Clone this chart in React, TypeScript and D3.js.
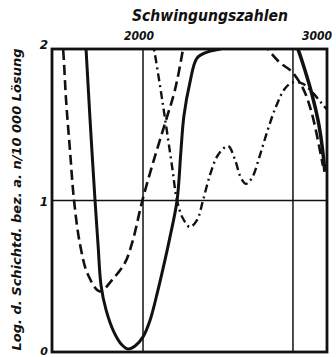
import React from "react";
import * as d3 from "d3";

// Schwingungszahlen (x) vs log. Schichtdicke (y)
const xTicks = [2000, 3000];
const yTicks = [0, 1, 2];

// solid curve, left U and right descending branch
const solidAX = [1607, 1620, 1647, 1680, 1700, 1720, 1753, 1807, 1860, 1900, 1947, 2000, 2047, 2100, 2147, 2180, 2227, 2253, 2273, 2313, 2360, 2427, 2513, 2647];
const solidAY = [2.19, 2.0, 1.53, 1.0, 0.71, 0.44, 0.28, 0.13, 0.046, 0.02, 0.04, 0.1, 0.21, 0.41, 0.61, 0.76, 1.0, 1.33, 1.56, 1.78, 1.94, 1.98, 2.0, 2.03];
const solidBX = [2980, 3033, 3080, 3127, 3167, 3193, 3213];
const solidBY = [2.12, 2.0, 1.86, 1.7, 1.53, 1.37, 1.19];

// dashed curve
const dashAX = [1447, 1467, 1487, 1513, 1540, 1580, 1633, 1713, 1793, 1880, 1933, 1993, 2067, 2147, 2213, 2267, 2300];
const dashAY = [2.19, 2.0, 1.66, 1.33, 1.0, 0.71, 0.51, 0.4, 0.475, 0.59, 0.74, 0.99, 1.25, 1.51, 1.73, 2.0, 2.19];
const dashBX = [2747, 2833, 2913, 2993, 3067, 3113, 3147, 3180, 3200];
const dashBY = [2.13, 2.0, 1.91, 1.85, 1.74, 1.62, 1.49, 1.33, 1.23];

// dash-dot curve
const dotX = [2033, 2073, 2113, 2147, 2193, 2227, 2267, 2313, 2360, 2400, 2447, 2500, 2567, 2613, 2653, 2687, 2727, 2780, 2833, 2887, 2947, 3000, 3067, 3133, 3193, 3227];
const dotY = [2.19, 2.0, 1.76, 1.54, 1.23, 1.0, 0.88, 0.825, 0.87, 1.0, 1.17, 1.3, 1.36, 1.27, 1.15, 1.11, 1.15, 1.3, 1.47, 1.62, 1.74, 1.78, 1.77, 1.71, 1.64, 1.6];

const W = 336, H = 357;
const left = 52, right = 327, top = 49, bottom = 352;

export default function App() {
  const x = d3.scaleLinear().domain([1393, 3227]).range([left, right]);
  const y = d3.scaleLinear().domain([0, 2]).range([bottom, top]);
  const line = d3.line<[number, number]>().x(d => x(d[0])).y(d => y(d[1])).curve(d3.curveCatmullRom.alpha(0.5));
  const pts = (xs: number[], ys: number[]) => xs.map((v, i) => [v, ys[i]] as [number, number]);
  const font = "'DejaVu Sans', sans-serif";

  return (
    <svg width={W} height={H} style={{ position: "absolute", left: 0, top: 0, background: "#fff" }}>
      <defs>
        <clipPath id="plot"><rect x={left} y={top} width={right - left} height={bottom - top} /></clipPath>
      </defs>
      <text x={210} y={21} textAnchor="middle" fontFamily={font} fontStyle="italic" fontWeight="bold" fontSize={15} textLength={156} lengthAdjust="spacingAndGlyphs" fill="#111">Schwingungszahlen</text>
      {xTicks.map((t, i) => (
        <text key={t} x={x(t) + (i === 0 ? -4 : 24)} y={40} textAnchor="middle" fontFamily={font} fontStyle="italic" fontWeight="bold" fontSize={12} textLength={30} lengthAdjust="spacingAndGlyphs" fill="#111">{t}</text>
      ))}
      {yTicks.map(t => (
        <text key={t} x={44} y={y(t) + (t === 2 ? 0 : t === 1 ? 5 : 3)} textAnchor="middle" fontFamily={font} fontStyle="italic" fontWeight="bold" fontSize={t === 0 ? 11 : 12} fill="#111">{t}</text>
      ))}
      <text transform={`translate(21,${(bottom + top) / 2 - 1}) rotate(-90)`} textAnchor="middle" fontFamily={font} fontStyle="italic" fontWeight="bold" fontSize={13} textLength={302} lengthAdjust="spacingAndGlyphs" fill="#111">Log. d. Schichtd. bez. a. n/10 000 Lösung</text>

      {xTicks.map(t => <line key={t} x1={x(t)} x2={x(t)} y1={top} y2={bottom} stroke="#111" strokeWidth={1.5} />)}
      <line x1={left} x2={right} y1={y(1)} y2={y(1)} stroke="#111" strokeWidth={1.5} />

      <g clipPath="url(#plot)" fill="none" stroke="#111">
        <path d={line(pts(solidAX, solidAY)) ?? ""} strokeWidth={3} />
        <path d={line(pts(solidBX, solidBY)) ?? ""} strokeWidth={3.5} />
        <path d={line(pts(dashAX, dashAY)) ?? ""} strokeWidth={2.6} strokeDasharray="10 5" />
        <path d={line(pts(dashBX, dashBY)) ?? ""} strokeWidth={2.6} strokeDasharray="10 5" />
        <path d={line(pts(dotX, dotY)) ?? ""} strokeWidth={2.4} strokeDasharray="8 4 2 4" />
      </g>
      <rect x={left} y={top} width={right - left} height={bottom - top} fill="none" stroke="#111" strokeWidth={2.8} />
    </svg>
  );
}
